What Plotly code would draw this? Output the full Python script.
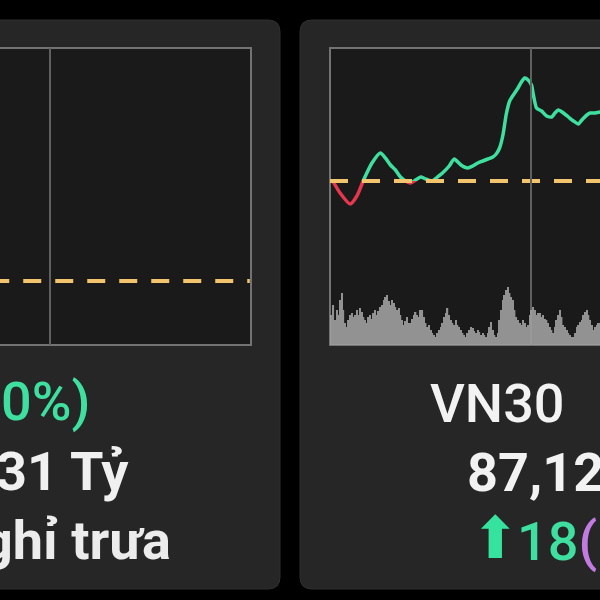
import plotly.graph_objects as go

# ---------------- data ----------------
ref_vn30 = 1273.50
minutes = [2, 6, 12, 16, 20, 25, 30, 33, 36, 39, 42, 45, 48, 51, 54, 57, 61, 64, 67, 71,
           74, 78, 82, 85, 88, 91, 94, 97, 99, 101, 103, 105, 107, 110, 112, 114, 116, 118,
           120, 121, 123, 126, 129, 132, 134, 136, 139, 142, 145, 148, 150, 153, 155, 158,
           161, 163]
vn30_price = [1273.30, 1271.10, 1268.90, 1270.50, 1273.70, 1277.10, 1279.10, 1278.10,
              1276.70, 1275.70, 1274.30, 1273.50, 1273.10, 1273.70, 1274.30, 1273.90,
              1273.50, 1274.30, 1275.10, 1276.50, 1277.90, 1276.70, 1276.10, 1276.50,
              1277.10, 1277.50, 1277.90, 1278.30, 1278.90, 1280.10, 1282.70, 1286.90,
              1289.50, 1291.10, 1292.10, 1293.30, 1294.10, 1293.70, 1292.70, 1291.00,
              1288.10, 1287.50, 1286.50, 1286.30, 1287.10, 1287.70, 1287.10, 1286.30,
              1285.50, 1284.90, 1285.70, 1286.70, 1287.10, 1287.10, 1287.30, 1287.10]

vol_minutes = list(range(1, 162))
vn30_volume = [300, 400, 250, 350, 300, 450, 520, 350, 220, 180,
               250, 300, 320, 280, 300, 350, 300, 370, 330, 280,
               250, 220, 280, 300, 260, 320, 350, 300, 340, 380,
               400, 450, 480, 500, 440, 400, 450, 420, 380, 350,
               370, 300, 250, 200, 240, 280, 220, 220, 260, 300,
               330, 300, 280, 350, 350, 280, 220, 180, 200, 150,
               120, 100, 80, 120, 150, 180, 220, 280, 320, 370,
               300, 250, 220, 200, 250, 200, 180, 150, 120, 100,
               80, 120, 150, 180, 170, 140, 120, 150, 130, 100,
               120, 100, 80, 120, 180, 230, 150, 100, 80, 120,
               250, 350, 450, 500, 550, 580, 520, 480, 450, 350,
               280, 250, 220, 200, 250, 220, 180, 200, 300, 350,
               380, 350, 300, 320, 320, 280, 300, 260, 250, 220,
               180, 150, 120, 180, 250, 300, 350, 280, 200, 180,
               150, 120, 100, 80, 80, 120, 180, 200, 230, 250,
               300, 330, 350, 300, 250, 200, 150, 180, 200, 220, 220]

ref_left = 1262.50
midday_tick = [120]

labels_left = ["0%)", "31 Tỷ", "ghỉ trưa"]
label_vn30 = "VN30"
value_vn30 = "87,12"
change_vn30 = "18"

# ---------------- layout helpers (pixel -> paper) ----------------
W = H = 600
def px(x):
    return x / W
def py(y):
    return 1 - y / H

PLOT_TOP, PLOT_BOT = 48, 345
REF_Y = 181
PX_PER_MIN = 1.679
PX_PER_PT = 5.0
VOL_PX = 0.1  # px per volume unit

GREEN = "#3fdfa0"
RED = "#e6374e"
DASH = "#f2c46e"

fig = go.Figure()

# volume bars
fig.add_trace(go.Bar(x=vol_minutes, y=vn30_volume, xaxis="x2", yaxis="y5",
                     marker=dict(color="#a0a0a0", line=dict(width=0)), opacity=0.9,
                     hoverinfo="skip"))
# red part (below reference)
fig.add_trace(go.Scatter(x=minutes, y=vn30_price, xaxis="x2", yaxis="y3", mode="lines",
                         line=dict(color=RED, width=3.5, shape="spline", smoothing=0.6),
                         hoverinfo="skip"))
# green part (above reference)
fig.add_trace(go.Scatter(x=minutes, y=vn30_price, xaxis="x2", yaxis="y2", mode="lines",
                         line=dict(color=GREEN, width=3.5, shape="spline", smoothing=0.6),
                         hoverinfo="skip"))
# reference dashed line (right)
fig.add_trace(go.Scatter(x=[0, 170], y=[ref_vn30, ref_vn30], xaxis="x2", yaxis="y4",
                         mode="lines", line=dict(color=DASH, width=4, dash="18px,14px"),
                         hoverinfo="skip"))
# reference dashed line (left)
fig.add_trace(go.Scatter(x=[85, 239], y=[ref_left, ref_left], xaxis="x", yaxis="y6",
                         mode="lines", line=dict(color=DASH, width=4, dash="18px,14px"),
                         hoverinfo="skip"))

dom_full = [py(PLOT_BOT), py(PLOT_TOP)]
up_pts = (REF_Y - PLOT_TOP) / PX_PER_PT
dn_pts = (PLOT_BOT - REF_Y) / PX_PER_PT

hidden = dict(visible=True, showticklabels=False, ticks="", showline=False,
              zeroline=False, showgrid=False)

left_frac = (PLOT_BOT - 281) / (PLOT_BOT - PLOT_TOP)
left_R = 30.0

fig.update_layout(
    width=W, height=H, margin=dict(l=0, r=0, t=0, b=0),
    paper_bgcolor="#000000", plot_bgcolor="rgba(0,0,0,0)",
    showlegend=False, bargap=0.15,
    xaxis=dict(**{**hidden, "showgrid": True}, domain=[0, px(250)],
               range=[120 - 50 / PX_PER_MIN, 120 + 200 / PX_PER_MIN],
               tickvals=midday_tick, gridcolor="#606060", gridwidth=2, anchor="y6"),
    xaxis2=dict(**{**hidden, "showgrid": True}, domain=[px(330), 1],
                range=[0, (600 - 330) / PX_PER_MIN],
                tickvals=midday_tick, gridcolor="#606060", gridwidth=2, anchor="y4"),
    yaxis2=dict(**hidden, domain=[py(REF_Y), py(PLOT_TOP)],
                range=[ref_vn30, ref_vn30 + up_pts], anchor="x2"),
    yaxis3=dict(**hidden, domain=[py(PLOT_BOT), py(REF_Y)],
                range=[ref_vn30 - dn_pts, ref_vn30], anchor="x2"),
    yaxis4=dict(**hidden, domain=dom_full,
                range=[ref_vn30 - dn_pts, ref_vn30 + up_pts], anchor="x2"),
    yaxis5=dict(**hidden, domain=dom_full,
                range=[0, (PLOT_BOT - PLOT_TOP) / VOL_PX], anchor="x2"),
    yaxis6=dict(**hidden, domain=dom_full,
                range=[ref_left - left_frac * left_R, ref_left + (1 - left_frac) * left_R],
                anchor="x"),
)

def rounded(x0, y0, x1, y1, r):
    X0, X1 = px(x0), px(x1)
    Y0, Y1 = py(y0), py(y1)
    rx, ry = r / W, r / H
    return (f"M {X0+rx},{Y0} L {X1-rx},{Y0} Q {X1},{Y0} {X1},{Y0-ry} "
            f"L {X1},{Y1+ry} Q {X1},{Y1} {X1-rx},{Y1} L {X0+rx},{Y1} "
            f"Q {X0},{Y1} {X0},{Y1+ry} L {X0},{Y0-ry} Q {X0},{Y0} {X0+rx},{Y0} Z")

shapes = []
# cards
shapes.append(dict(type="path", path=rounded(-120, 20, 280, 589, 12), xref="paper", yref="paper",
                   fillcolor="#262626", line=dict(color="#2f2f2f", width=1), layer="below"))
shapes.append(dict(type="path", path=rounded(300, 20, 760, 589, 12), xref="paper", yref="paper",
                   fillcolor="#262626", line=dict(color="#2f2f2f", width=1), layer="below"))
# plot areas
shapes.append(dict(type="rect", x0=px(-160), x1=px(251), y0=py(PLOT_BOT), y1=py(PLOT_TOP),
                   xref="paper", yref="paper", fillcolor="#1a1a1a",
                   line=dict(color="#737373", width=2), layer="below"))
shapes.append(dict(type="rect", x0=px(330), x1=px(740), y0=py(PLOT_BOT), y1=py(PLOT_TOP),
                   xref="paper", yref="paper", fillcolor="#1a1a1a",
                   line=dict(color="#737373", width=2), layer="below"))
fig.update_layout(shapes=shapes)

FONT = "Roboto, 'Noto Sans', 'DejaVu Sans', sans-serif"
SIZE = 54
ann = []
def txt(text, x, yc, anchor, color, weight=400, size=SIZE, family=FONT):
    ann.append(dict(text=text, x=px(x), y=py(yc), xref="paper", yref="paper",
                    xanchor=anchor, yanchor="middle", showarrow=False,
                    font=dict(family=family, size=size, color=color, weight=weight)))

txt(labels_left[0], 92, 401, "right", GREEN, weight=500)
txt(labels_left[1], 131, 471, "right", "#f0f0f0", weight=700)
txt(labels_left[2], 173, 540, "right", "#ececec", weight=700)
txt(label_vn30, 428, 403, "left", "#f2f2f2", weight=500)
txt(value_vn30, 465, 472, "left", "#f2f2f2", weight=700)
txt("⬆", 469, 538, "left", "#36e39e", size=58, family="'DejaVu Sans', sans-serif")
ann.append(dict(text=f"<span style='color:{GREEN}'>{change_vn30}</span>"
                     f"<span style='color:#c27be0'>(</span>",
                x=px(515), y=py(541), xref="paper", yref="paper", xanchor="left",
                yanchor="middle", showarrow=False,
                font=dict(family=FONT, size=SIZE, color=GREEN, weight=500)))
fig.update_layout(annotations=ann)

fig.write_html("out.html", config={"displayModeBar": False},
               post_script="document.body.style.margin='0';"
                           "document.body.style.background='#000';"
                           "document.body.style.overflow='hidden';")
